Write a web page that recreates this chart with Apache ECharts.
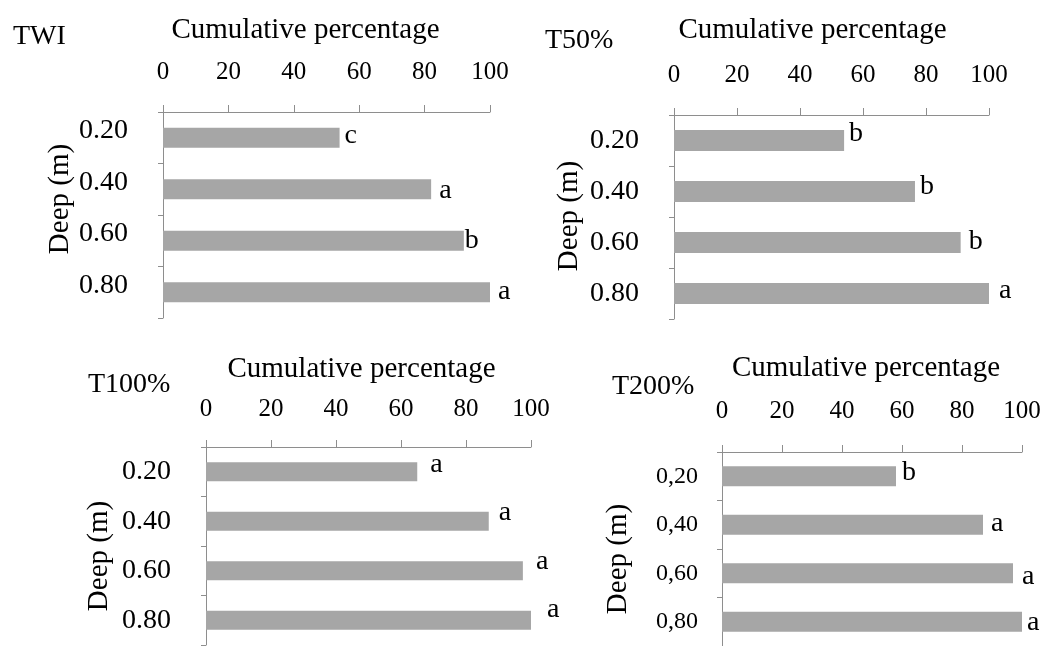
<!DOCTYPE html>
<html>
<head>
<meta charset="utf-8">
<script src="https://cdn.jsdelivr.net/npm/echarts@6/dist/echarts.min.js"></script>
<style>
html,body{margin:0;padding:0;background:#fff;}
#chart{width:1053px;height:646px;}
</style>
</head>
<body>
<div id="chart"></div>
<script>
// ---- data ----
const depthLabelsDot = ['0.20', '0.40', '0.60', '0.80'];
const depthLabelsComma = ['0,20', '0,40', '0,60', '0,80'];
const panelNames = ['TWI', 'T50%', 'T100%', 'T200%'];
const xAxisTitle = 'Cumulative percentage';
const yAxisTitle = 'Deep (m)';
const twiValues = [54, 82, 92, 100];
const twiLetters = ['c', 'a', 'b', 'a'];
const t50Values = [54, 76.5, 91, 100];
const t50Letters = ['b', 'b', 'b', 'a'];
const t100Values = [65, 87, 97.5, 100];
const t100Letters = ['a', 'a', 'a', 'a'];
const t200Values = [58, 87, 97, 100];
const t200Letters = ['b', 'a', 'a', 'a'];
const xMin = 0, xMax = 100, xStep = 20;

// ---- layout / style (not data) ----
const FONT = 'Liberation Serif';
const panels = [
  { cats: depthLabelsDot, vals: twiValues, letters: twiLetters,
    grid: { left: 163, top: 112, width: 327, height: 206 },
    label: { left: 13, top: 23 },
    nameGap: 67, namePad: [0, 42, 0, 0], tickMargin: 27,
    yNameGap: 86, yNamePad: [0, 0, 0, 32], yLabelMargin: 35, yLabelSize: 28, yLabelShiftUp: true,
    barWidth: 20,
    offsets: [[5, -2], [8, 1], [1, 0], [8, -1]] },
  { cats: depthLabelsDot, vals: t50Values, letters: t50Letters,
    grid: { left: 674, top: 115, width: 315, height: 204 },
    label: { left: 545, top: 27 },
    nameGap: 70, namePad: [0, 38, 0, 0], tickMargin: 27,
    yNameGap: 90, yNamePad: [0, 0, 0, 2], yLabelMargin: 35, yLabelSize: 28, yLabelShiftUp: false,
    barWidth: 21,
    offsets: [[5, -7], [5, -5], [8, -1], [10, -3]] },
  { cats: depthLabelsDot, vals: t100Values, letters: t100Letters,
    grid: { left: 206, top: 447, width: 325, height: 198 },
    label: { left: 88, top: 371 },
    nameGap: 63, namePad: [0, 14, 0, 0], tickMargin: 25,
    yNameGap: 92, yNamePad: [0, 20, 0, 0], yLabelMargin: 35, yLabelSize: 28, yLabelShiftUp: false,
    barWidth: 19,
    offsets: [[13, -7], [10, -9], [13, -9], [16, -11]] },
  { cats: depthLabelsComma, vals: t200Values, letters: t200Letters,
    grid: { left: 722, top: 452, width: 300, height: 200 },
    label: { left: 612, top: 373 },
    nameGap: 69, namePad: [0, 12, 0, 0], tickMargin: 28,
    yNameGap: 89, yNamePad: [0, 20, 0, 0], yLabelMargin: 24, yLabelSize: 24, yLabelShiftUp: false,
    barWidth: 20,
    offsets: [[6, -4], [8, -1], [9, 3], [5, 1]] }
];

const AXIS_COLOR = '#8e8e8e';
const BAR_COLOR = '#a6a6a6';

const option = {
  animation: false,
  backgroundColor: '#ffffff',
  title: [],
  grid: [],
  xAxis: [],
  yAxis: [],
  series: []
};

panels.forEach((p, i) => {
  option.title.push({
    text: panelNames[i], left: p.label.left, top: p.label.top, padding: 0,
    textStyle: { fontFamily: FONT, fontSize: 28, fontWeight: 'normal', color: '#000' }
  });
  option.grid.push(Object.assign({ containLabel: false }, p.grid));
  option.xAxis.push({
    type: 'value', gridIndex: i, position: 'top', min: xMin, max: xMax, interval: xStep,
    name: xAxisTitle, nameLocation: 'middle', nameGap: p.nameGap,
    nameTextStyle: { fontFamily: FONT, fontSize: 29, color: '#000', padding: p.namePad },
    axisLine: { show: true, lineStyle: { color: AXIS_COLOR, width: 1 } },
    axisTick: { show: true, length: 7, lineStyle: { color: AXIS_COLOR } },
    axisLabel: { fontFamily: FONT, fontSize: 25, color: '#000', margin: p.tickMargin },
    splitLine: { show: false }
  });
  const yLabel = { fontFamily: FONT, fontSize: p.yLabelSize, color: '#000', margin: p.yLabelMargin };
  if (p.yLabelShiftUp) { yLabel.verticalAlign = 'bottom'; yLabel.lineHeight = 14; }
  option.yAxis.push({
    type: 'category', gridIndex: i, inverse: true, data: p.cats,
    name: yAxisTitle, nameLocation: 'middle', nameRotate: 90, nameGap: p.yNameGap,
    nameTextStyle: { fontFamily: FONT, fontSize: 29, color: '#000', padding: p.yNamePad },
    axisLine: { show: true, lineStyle: { color: AXIS_COLOR, width: 1 } },
    axisTick: { show: true, length: 5, lineStyle: { color: AXIS_COLOR } },
    axisLabel: yLabel,
    splitLine: { show: false }
  });
  option.series.push({
    type: 'bar', xAxisIndex: i, yAxisIndex: i, barWidth: p.barWidth,
    itemStyle: { color: BAR_COLOR },
    data: p.vals.map((v, k) => ({
      value: v,
      label: {
        show: true, position: 'right', distance: 0, offset: p.offsets[k],
        formatter: p.letters[k],
        fontFamily: FONT, fontSize: 28, color: '#000'
      }
    }))
  });
});

const chart = echarts.init(document.getElementById('chart'), null, { renderer: 'canvas' });
chart.setOption(option);
</script>
</body>
</html>
